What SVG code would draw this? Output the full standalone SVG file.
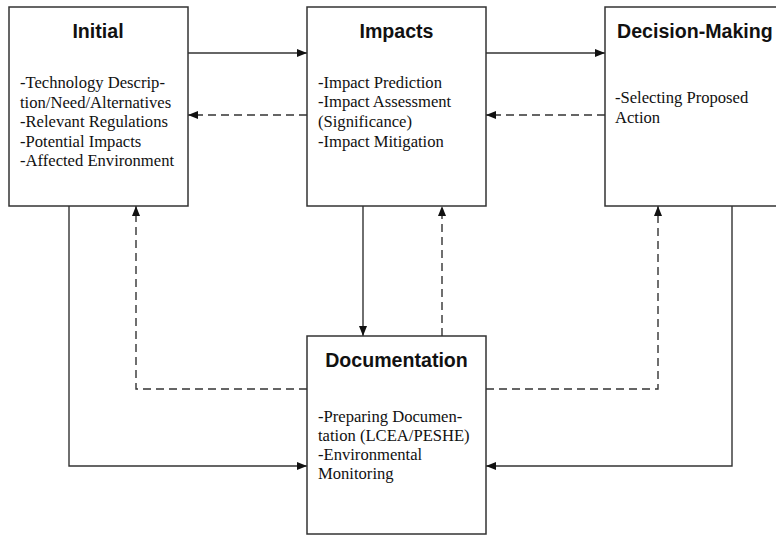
<svg xmlns="http://www.w3.org/2000/svg" width="776" height="536" viewBox="0 0 776 536">
<style>
.box{fill:#fff;stroke:#333;stroke-width:1.5}
.t{font-family:"Liberation Sans",Arial,sans-serif;font-weight:bold;font-size:19.6px;fill:#111}
.b{font-family:"Liberation Serif","Times New Roman",serif;font-size:16.6px;fill:#111}
.s{fill:none;stroke:#333;stroke-width:1.4;marker-end:url(#ah)}
.d{fill:none;stroke:#333;stroke-width:1.4;stroke-dasharray:8 5;marker-end:url(#ah)}
</style>
<defs>
<marker id="ah" viewBox="0 0 10 10" refX="10" refY="5" markerWidth="10" markerHeight="10" markerUnits="userSpaceOnUse" orient="auto">
<path d="M0,1 L10,5 L0,9 z" fill="#111"/>
</marker>
</defs>
<rect width="776" height="536" fill="#fff"/>
<g id="connectors">
<path class="s" d="M188,53 H307"/>
<path class="d" d="M307,115 H188"/>
<path class="s" d="M486,53 H605"/>
<path class="d" d="M605,115 H486"/>
<path class="s" d="M363,206 V336"/>
<path class="d" d="M442,336 V206"/>
<path class="s" d="M69,206 V466 H307"/>
<path class="d" d="M307,389 H136 V206"/>
<path class="d" d="M486,389 H658 V206"/>
<path class="s" d="M732,206 V466 H486"/>
</g>
<g id="initial">
<rect class="box" x="9" y="7" width="179" height="199"/>
<text class="t" x="98" y="38" text-anchor="middle">Initial</text>
<text class="b" x="20" y="88">-Technology Descrip-</text>
<text class="b" x="20" y="107.5">tion/Need/Alternatives</text>
<text class="b" x="20" y="127">-Relevant Regulations</text>
<text class="b" x="20" y="146.5">-Potential Impacts</text>
<text class="b" x="20" y="166">-Affected Environment</text>
</g>
<g id="impacts">
<rect class="box" x="307" y="7" width="179" height="199"/>
<text class="t" x="396.5" y="38" text-anchor="middle">Impacts</text>
<text class="b" x="318" y="87.5">-Impact Prediction</text>
<text class="b" x="318" y="107">-Impact Assessment</text>
<text class="b" x="318" y="127">(Significance)</text>
<text class="b" x="318" y="146.5">-Impact Mitigation</text>
</g>
<g id="decision">
<rect class="box" x="605" y="7" width="172" height="199"/>
<text class="t" x="617" y="38">Decision-Making</text>
<text class="b" x="615" y="103">-Selecting Proposed</text>
<text class="b" x="615" y="123">Action</text>
</g>
<g id="documentation">
<rect class="box" x="307" y="336" width="179" height="198"/>
<text class="t" x="396.5" y="367" text-anchor="middle">Documentation</text>
<text class="b" x="318" y="422">-Preparing Documen-</text>
<text class="b" x="318" y="441">tation (LCEA/PESHE)</text>
<text class="b" x="318" y="460">-Environmental</text>
<text class="b" x="318" y="479">Monitoring</text>
</g>
</svg>
